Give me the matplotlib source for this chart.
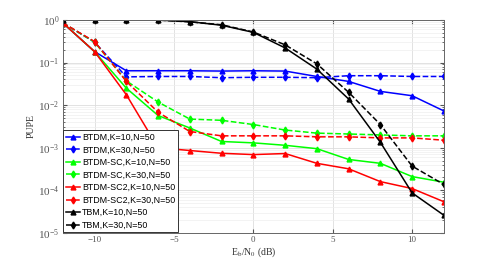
import numpy as np
import matplotlib
matplotlib.use("Agg")
import matplotlib.pyplot as plt

plt.rcParams["font.family"] = ["Liberation Serif", "DejaVu Serif"]
plt.rcParams["mathtext.fontset"] = "stix"

ebn0 = [-12, -10, -8, -6, -4, -2, 0, 2, 4, 6, 8, 10, 12]

btdm_k10 = [0.85, 0.18, 0.064, 0.064, 0.064, 0.063, 0.064, 0.063, 0.047, 0.036, 0.021, 0.0166, 0.0073]
btdm_k30 = [0.85, 0.30, 0.046, 0.047, 0.047, 0.044, 0.045, 0.045, 0.044, 0.049, 0.049, 0.047, 0.047]
sc_k10 = [0.85, 0.18, 0.025, 0.0057, 0.0029, 0.0014, 0.0013, 0.00114, 0.00095, 0.00053, 0.00043, 0.00021, 0.000155]
sc_k30 = [0.85, 0.30, 0.037, 0.0118, 0.0047, 0.0044, 0.0035, 0.0026, 0.0022, 0.0021, 0.002, 0.0019, 0.0019]
sc2_k10 = [0.85, 0.18, 0.0175, 0.0010, 0.00086, 0.00074, 0.00069, 0.00073, 0.00043, 0.00032, 0.00016, 0.00011, 5.4e-5]
sc2_k30 = [0.85, 0.31, 0.036, 0.0068, 0.0024, 0.0019, 0.0019, 0.0019, 0.0018, 0.0018, 0.0017, 0.0017, 0.0015]
tbm_k10 = [1.0, 1.0, 1.0, 0.99, 0.91, 0.75, 0.51, 0.22, 0.07, 0.0139, 0.00134, 8.7e-5, 2.6e-5]
tbm_k30 = [1.0, 1.0, 1.0, 0.99, 0.90, 0.77, 0.52, 0.26, 0.093, 0.020, 0.0035, 0.00037, 0.000137]

series = [
    ("BTDM,K=10,N=50", btdm_k10, "b", "-", "^"),
    ("BTDM,K=30,N=50", btdm_k30, "b", "--", "d"),
    ("BTDM-SC,K=10,N=50", sc_k10, "#00ff00", "-", "^"),
    ("BTDM-SC,K=30,N=50", sc_k30, "#00ff00", "--", "d"),
    ("BTDM-SC2,K=10,N=50", sc2_k10, "r", "-", "^"),
    ("BTDM-SC2,K=30,N=50", sc2_k30, "r", "--", "d"),
    ("TBM,K=10,N=50", tbm_k10, "k", "-", "^"),
    ("TBM,K=30,N=50", tbm_k30, "k", "--", "d"),
]

fig = plt.figure(figsize=(4.91, 2.62), dpi=100)
ax = fig.add_axes([0.128, 0.111, 0.776, 0.813])

for name, vals, col, ls, mk in series:
    ax.semilogy(ebn0, vals, color=col, linestyle=ls, marker=mk, markersize=3.5,
                linewidth=1.1, label=name)

ax.set_xlim(-12, 12)
ax.set_ylim(1e-5, 1)
ax.set_xticks([-10, -5, 0, 5, 10])
ax.grid(True, which="major", color="#dddddd", linewidth=0.6)
ax.grid(True, which="minor", axis="y", color="#eeeeee", linewidth=0.5)
ax.tick_params(which="both", direction="in", top=True, right=True, labelsize=6.5, colors="#555555", pad=2.5)
ax.tick_params(axis="y", labelsize=8)
ax.tick_params(which="major", length=3)
ax.tick_params(which="minor", length=1.5)
for sp in ax.spines.values():
    sp.set_color("#666666")
    sp.set_linewidth(0.7)

ax.set_xlabel(r"E$_\mathrm{b}$/N$_\mathrm{0}$ (dB)", fontsize=7, color="#333333", labelpad=1)
ax.set_ylabel("PUPE", fontsize=7, color="#333333", labelpad=2)

leg = ax.legend(loc="lower left", prop={"family": "Liberation Sans", "size": 6.4},
                handlelength=1.6, handletextpad=0.2, labelspacing=0.4,
                borderaxespad=0.05, borderpad=0.3, fancybox=False, framealpha=1)
leg.get_frame().set_edgecolor("#333333")
leg.get_frame().set_linewidth(0.7)

fig.savefig("out.png", dpi=100)
